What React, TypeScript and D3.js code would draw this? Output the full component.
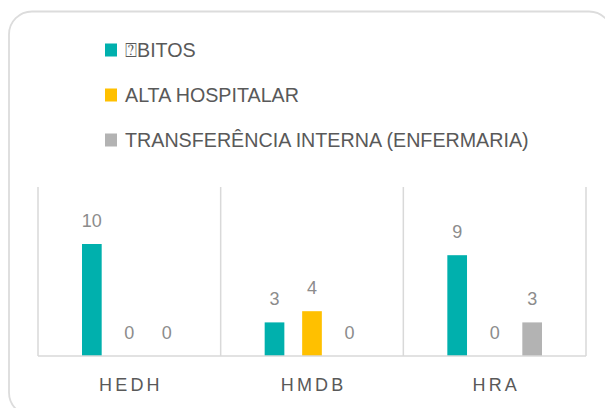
import React from "react";
import * as d3 from "d3";

const categories = ["HEDH", "HMDB", "HRA"];
const seriesNames = ["⍰BITOS", "ALTA HOSPITALAR", "TRANSFERÊNCIA INTERNA (ENFERMARIA)"];
const obitos = [10, 3, 9];
const altaHospitalar = [0, 4, 0];
const transferencia = [0, 0, 3];
const seriesColors = ["#00B0AD", "#FFC000", "#B3B3B3"];

const W = 605;
const H = 408;
const FONT = "'Liberation Sans', Arial, sans-serif";

export default function App() {
  const seriesValues = [obitos, altaHospitalar, transferencia];
  const plotLeft = 38;
  const plotRight = 586;
  const plotTop = 188;
  const baseY = 356;

  const x0 = d3.scaleBand<string>().domain(categories).range([plotLeft, plotRight]).padding(0);
  const bw = x0.bandwidth();
  const outer = 35.1;
  const x1 = d3
    .scaleBand<number>()
    .domain([0, 1, 2])
    .range([outer, bw - outer])
    .paddingInner(0.475)
    .paddingOuter(0.2375);
  const y = d3.scaleLinear().domain([0, 15]).range([baseY, plotTop]);

  const separators = categories.map((c) => x0(c) as number).concat([plotRight]);
  const ls = 3.2;

  return (
    <svg
      width={W}
      height={H}
      style={{ position: "absolute", left: 0, top: 0, display: "block" }}
      fontFamily={FONT}
    >
      <rect x={0} y={0} width={W} height={H} fill="#fff" />
      <rect
        x={9}
        y={11.5}
        width={603}
        height={404}
        rx={23}
        ry={23}
        fill="#fff"
        stroke="#dcdcdc"
        strokeWidth={1.8}
      />
      {/* legend */}
      {seriesNames.map((name, i) => (
        <g key={name} transform={`translate(105, ${50 + i * 45})`}>
          <rect x={0} y={-6.5} width={12} height={13} fill={seriesColors[i]} />
          <text x={20} y={6.8} fontSize={19.7} fill="#595959">
            {name}
          </text>
        </g>
      ))}
      {/* separators */}
      {separators.map((sx, i) => (
        <line key={i} x1={sx} x2={sx} y1={plotTop - 1} y2={baseY} stroke="#d9d9d9" strokeWidth={1.5} />
      ))}
      {/* bars */}
      {categories.map((c, ci) => (
        <g key={c} transform={`translate(${x0(c)},0)`}>
          {seriesValues.map((vals, si) => {
            const v = vals[ci];
            const bx = x1(si) as number;
            return (
              <g key={si}>
                {v > 0 && (
                  <rect x={bx} y={y(v)} width={x1.bandwidth()} height={baseY - y(v)} fill={seriesColors[si]} />
                )}
                <text
                  x={bx + x1.bandwidth() / 2}
                  y={y(v) - 17}
                  textAnchor="middle"
                  fontSize={18}
                  fill="#8c8c8c"
                >
                  {v}
                </text>
              </g>
            );
          })}
        </g>
      ))}
      <line x1={plotLeft} x2={plotRight} y1={baseY} y2={baseY} stroke="#d9d9d9" strokeWidth={1.5} />
      {/* category labels */}
      {categories.map((c) => (
        <text
          key={c}
          x={(x0(c) as number) + bw / 2 + ls / 2}
          y={390.7}
          textAnchor="middle"
          fontSize={18}
          fill="#595959"
          letterSpacing={ls}
        >
          {c}
        </text>
      ))}
    </svg>
  );
}
